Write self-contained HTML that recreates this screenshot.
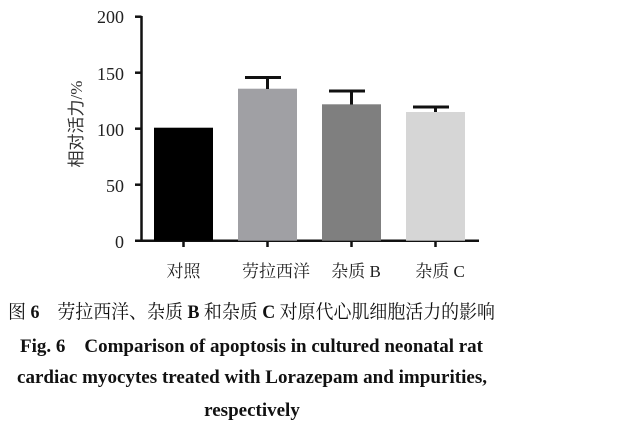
<!DOCTYPE html>
<html><head><meta charset="utf-8"><style>body{margin:0;background:#fff}svg{display:block}</style></head>
<body>
<svg width="640" height="427" viewBox="0 0 640 427" xmlns="http://www.w3.org/2000/svg">
<g font-family="Liberation Serif, 'Noto Serif CJK SC', serif" font-size="18" fill="#222" text-anchor="end">
<text x="124" y="23">200</text>
<text x="124" y="80">150</text>
<text x="124" y="136">100</text>
<text x="124" y="192">50</text>
<text x="124" y="248">0</text>
</g>
<text transform="translate(82,124) rotate(-90)" text-anchor="middle" font-family="Liberation Serif, 'Noto Sans CJK SC', sans-serif" font-size="17" fill="#333">相对活力/%</text>
<g stroke="#111" stroke-width="2.5" fill="none">
<line x1="141.5" y1="16" x2="141.5" y2="241"/>
<line x1="135" y1="16.7" x2="141.5" y2="16.7"/>
<line x1="135" y1="72.7" x2="141.5" y2="72.7"/>
<line x1="135" y1="128.7" x2="141.5" y2="128.7"/>
<line x1="135" y1="184.7" x2="141.5" y2="184.7"/>
<line x1="135" y1="240.7" x2="479" y2="240.7"/>
<line x1="183.5" y1="240" x2="183.5" y2="247"/>
<line x1="267.5" y1="240" x2="267.5" y2="247"/>
<line x1="351.5" y1="240" x2="351.5" y2="247"/>
<line x1="435.5" y1="240" x2="435.5" y2="247"/>
</g>
<rect x="154" y="127.7" width="59" height="113" fill="#000"/>
<rect x="238" y="88.7" width="59" height="152" fill="#a0a0a4"/>
<rect x="322" y="104.3" width="59" height="136.4" fill="#7f7f7f"/>
<rect x="406" y="112" width="59" height="128.7" fill="#d6d6d6"/>
<g stroke="#111" stroke-width="3">
<line x1="267.5" y1="77.5" x2="267.5" y2="89"/><line x1="245" y1="77.5" x2="281" y2="77.5"/>
<line x1="351.5" y1="91" x2="351.5" y2="104.5"/><line x1="329" y1="91" x2="365" y2="91"/>
<line x1="435.5" y1="107" x2="435.5" y2="112"/><line x1="413" y1="107" x2="449" y2="107"/>
</g>
<g font-family="Liberation Serif, 'Noto Serif CJK SC', serif" font-size="17" fill="#222" text-anchor="middle">
<text x="183.5" y="277">对照</text>
<text x="276" y="277">劳拉西洋</text>
<text x="356" y="277">杂质 B</text>
<text x="440" y="277">杂质 C</text>
</g>
<g font-family="Liberation Serif, 'Noto Serif CJK SC', serif" fill="#111">
<text x="8" y="318" font-size="19" textLength="487" lengthAdjust="spacingAndGlyphs">图 <tspan font-weight="bold">6</tspan>　劳拉西洋、杂质 <tspan font-weight="bold">B</tspan> 和杂质 <tspan font-weight="bold">C</tspan> 对原代心肌细胞活力的影响</text>
<g font-weight="bold" font-size="19">
<text x="20" y="352" textLength="463" lengthAdjust="spacingAndGlyphs">Fig. 6　Comparison of apoptosis in cultured neonatal rat</text>
<text x="17" y="383" textLength="470" lengthAdjust="spacingAndGlyphs">cardiac myocytes treated with Lorazepam and impurities,</text>
<text x="252" y="416" text-anchor="middle">respectively</text>
</g>
</g>
</svg>
</body></html>
